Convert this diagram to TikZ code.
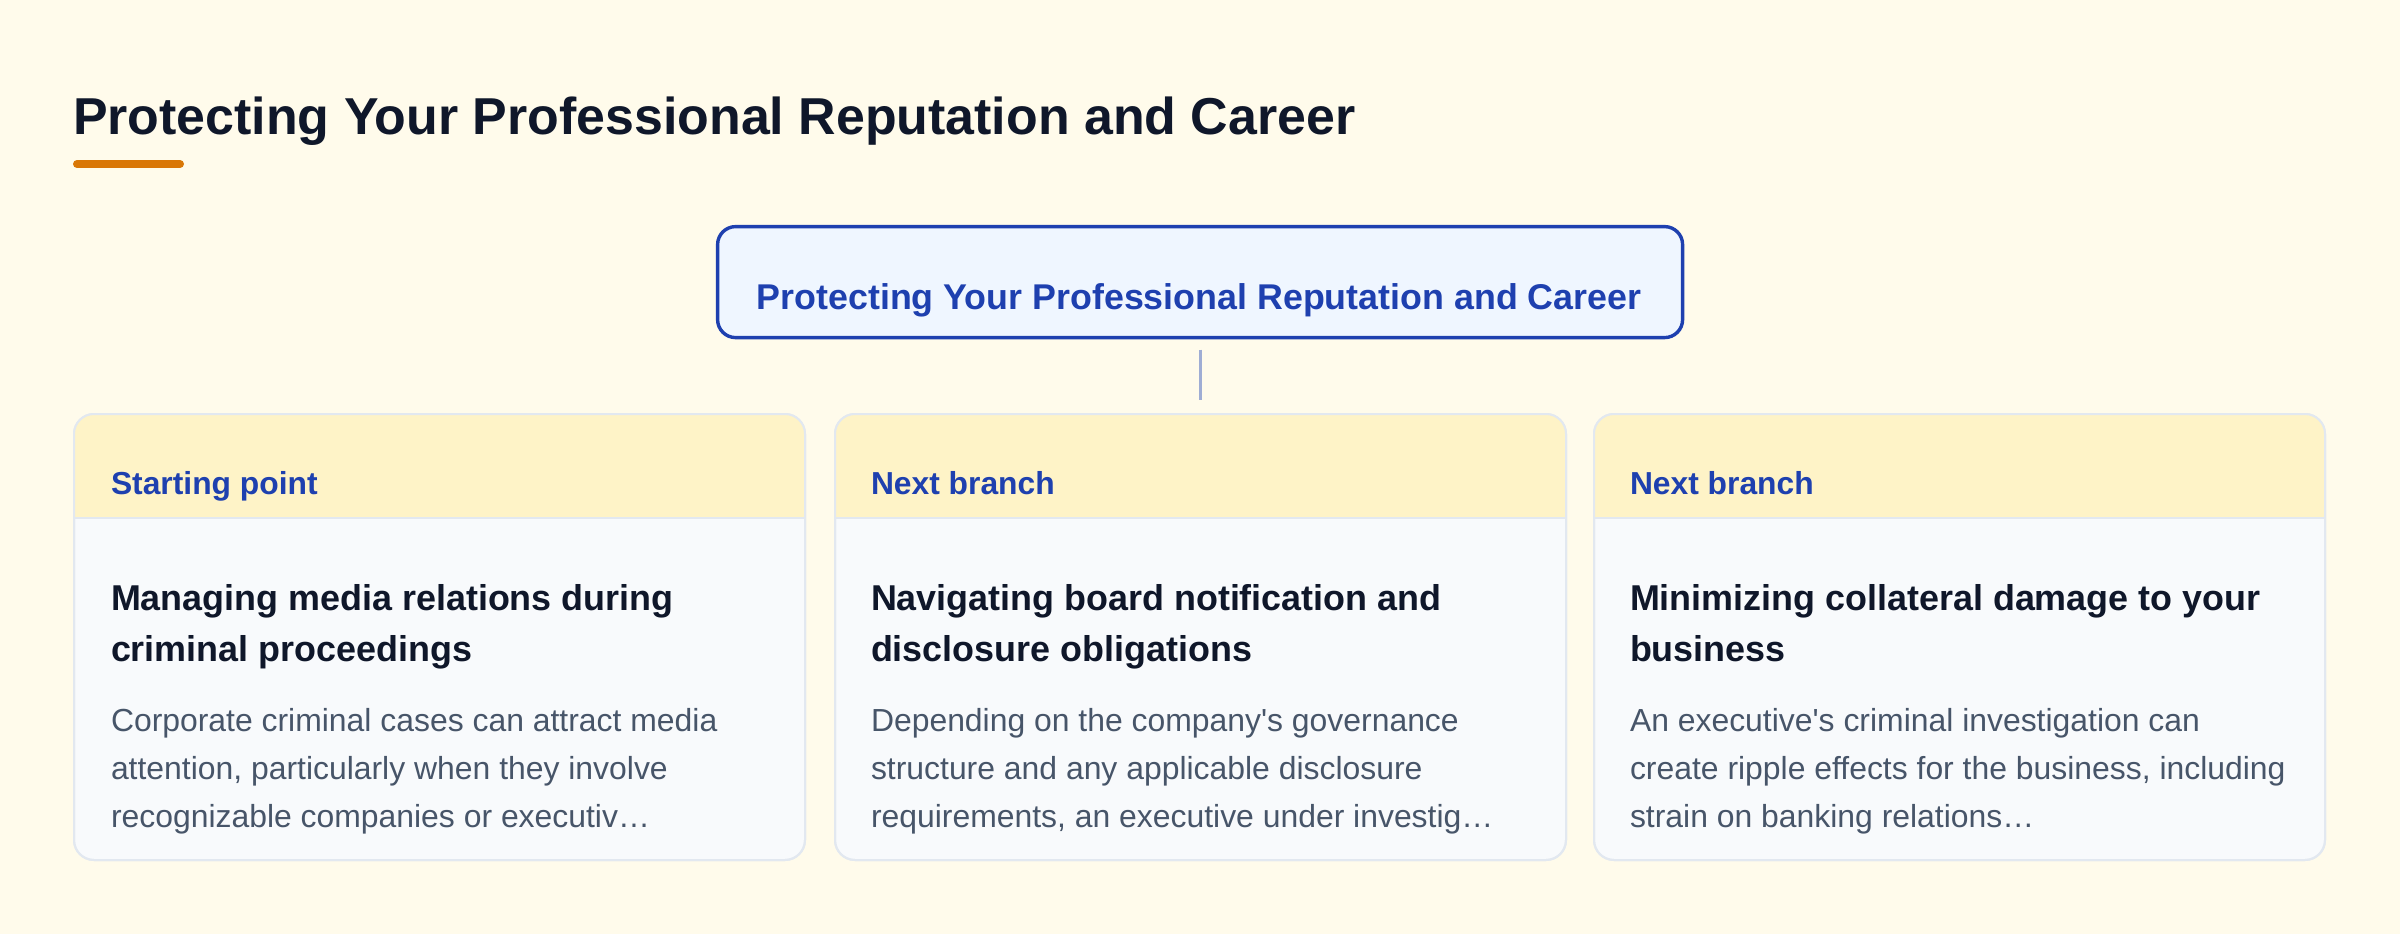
\documentclass[tikz,border=0pt]{standalone}
\usepackage{fontspec}
\setmainfont{Liberation Sans}
\definecolor{bgc}{HTML}{FFFBEB}
\definecolor{hdrc}{HTML}{FEF3C7}
\definecolor{bodyc}{HTML}{F8FAFC}
\definecolor{edgec}{HTML}{E2E8F0}
\definecolor{bluec}{HTML}{1E40AF}
\definecolor{mainfill}{HTML}{EFF6FF}
\definecolor{darkc}{HTML}{0F172A}
\definecolor{slatec}{HTML}{475569}
\definecolor{orangec}{HTML}{D97706}
\definecolor{connc}{HTML}{9FADD4}
\begin{document}
\begin{tikzpicture}[x=1pt,y=-1pt,
  cardbox/.style={draw=edgec, line width=2pt, rounded corners=20pt, fill=bodyc,
    minimum width=731pt, minimum height=446pt, anchor=north west, inner sep=0pt, outer sep=0pt},
  mainbox/.style={draw=bluec, line width=3.4pt, rounded corners=18pt, fill=mainfill,
    minimum width=965pt, minimum height=111pt, anchor=north west, inner sep=0pt, outer sep=0pt},
  txt/.style={inner sep=0pt, outer sep=0pt, anchor=base west},
  hdrtxt/.style={txt, text=bluec, font=\fontsize{31.8}{38}\selectfont\bfseries},
  cardtitle/.style={txt, text=darkc, font=\fontsize{35.9}{51}\selectfont\bfseries},
  bodytxt/.style={txt, text=slatec, font=\fontsize{31.9}{48}\selectfont},
  conn/.style={draw=connc, line width=3pt}
]
\useasboundingbox (0,0) rectangle (2400,934);
\fill[bgc] (0,0) rectangle (2400,934);

% page title
\node[txt, text=darkc, font=\fontsize{51.9}{60}\selectfont\bfseries] (pagetitle) at (73,134)
  {Protecting Your Professional Reputation and Career};
\draw[orangec, line width=8pt, line cap=round] (77,164) -- (180,164);

% main box
\node[mainbox] (main) at (717.6,226.6) {};
\node[inner sep=0pt, outer sep=0pt, anchor=base, text=bluec,
  font=\fontsize{35.8}{42}\selectfont\bfseries] (maintxt) at (1199,309)
  {Protecting Your Professional Reputation and Career};

% cards
\foreach \n/\x in {1/74, 2/835, 3/1594}{
  \node[cardbox] (card\n) at (\x,414) {};
  \begin{scope}
    \clip[rounded corners=20pt] (card\n.north west) rectangle (card\n.south east);
    \fill[hdrc] (card\n.north west) rectangle ([yshift=-104pt]card\n.north east);
  \end{scope}
  \draw[edgec, line width=2pt] ([yshift=-104pt]card\n.north west) -- ([yshift=-104pt]card\n.north east);
  \draw[edgec, line width=2pt, rounded corners=20pt] (card\n.north west) rectangle (card\n.south east);
}

% connector
\coordinate (connend) at (1200,400);
\draw[conn] ([yshift=-12pt]main.south -| connend) -- (connend);

% card 1
\node[hdrtxt] (h1) at (111,494) {Starting point};
\node[cardtitle] (t1) at (111,610) {\vtop{\hbox{Managing media relations during}\hbox{criminal proceedings}}};
\node[bodytxt] (b1) at (111,731.7) {\vtop{\hbox{Corporate criminal cases can attract media}\hbox{attention, particularly when they involve}\hbox{recognizable companies or executiv…}}};

% card 2
\node[hdrtxt] (h2) at (871,494) {Next branch};
\node[cardtitle] (t2) at (871,610) {\vtop{\hbox{Navigating board notification and}\hbox{disclosure obligations}}};
\node[bodytxt] (b2) at (871,731.7) {\vtop{\hbox{Depending on the company\textquotesingle s governance}\hbox{structure and any applicable disclosure}\hbox{requirements, an executive under investig…}}};

% card 3
\node[hdrtxt] (h3) at (1630,494) {Next branch};
\node[cardtitle] (t3) at (1630,610) {\vtop{\hbox{Minimizing collateral damage to your}\hbox{business}}};
\node[bodytxt] (b3) at (1630,731.7) {\vtop{\hbox{An executive\textquotesingle s criminal investigation can}\hbox{create ripple effects for the business, including}\hbox{strain on banking relations…}}};
\end{tikzpicture}
\end{document}
